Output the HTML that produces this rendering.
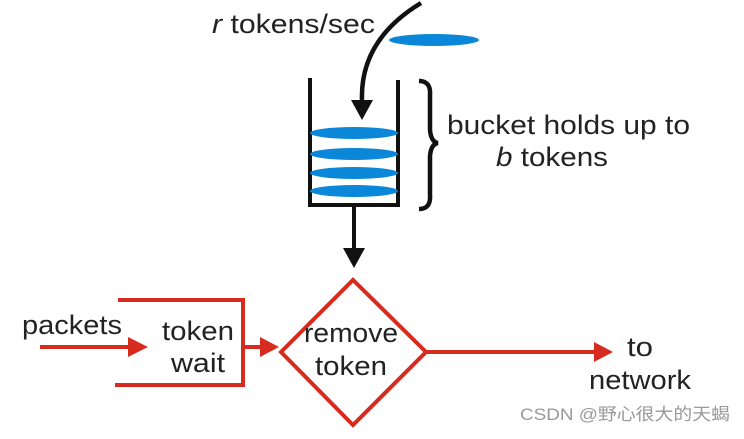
<!DOCTYPE html>
<html><head><style>
body{margin:0;background:#fff;}
svg text{font-family:"Liberation Sans",sans-serif;font-size:27px;fill:#222;}
</style></head><body>
<svg width="744" height="434" viewBox="0 0 744 434" xmlns="http://www.w3.org/2000/svg">
<text x="212" y="33" textLength="163" lengthAdjust="spacingAndGlyphs"><tspan font-style="italic">r</tspan> tokens/sec</text>
<ellipse cx="434" cy="40" rx="45" ry="6" fill="#0a87d8"/>
<path d="M421 3 Q360 40 362 100" fill="none" stroke="#111" stroke-width="4.5"/>
<polygon points="351,100 373,100 362,120" fill="#111"/>
<path d="M310 78 V205 H398 V80" fill="none" stroke="#111" stroke-width="4"/>
<ellipse cx="354" cy="133" rx="44" ry="6" fill="#0a87d8"/>
<ellipse cx="354" cy="154" rx="44" ry="6" fill="#0a87d8"/>
<ellipse cx="354" cy="173" rx="44" ry="6" fill="#0a87d8"/>
<ellipse cx="354" cy="191" rx="44" ry="6" fill="#0a87d8"/>
<path d="M419 81 Q431 81 430 95 V130 Q431 142 438 143 Q431 144 430 156 V195 Q431 209 419 209" fill="none" stroke="#111" stroke-width="4.5"/>
<text x="447" y="134" textLength="243" lengthAdjust="spacingAndGlyphs">bucket holds up to</text>
<text x="496" y="166" textLength="112" lengthAdjust="spacingAndGlyphs"><tspan font-style="italic">b</tspan> tokens</text>
<line x1="354" y1="205" x2="354" y2="250" stroke="#111" stroke-width="4"/>
<polygon points="343,248 365,248 354,268" fill="#111"/>
<text x="22" y="334" textLength="100" lengthAdjust="spacingAndGlyphs">packets</text>
<line x1="40" y1="347" x2="130" y2="347" stroke="#d62b1e" stroke-width="4"/>
<polygon points="128,337 148,347 128,357" fill="#d62b1e"/>
<path d="M118 300 H243 V385 H115" fill="none" stroke="#d62b1e" stroke-width="4"/>
<text x="162" y="340" textLength="72" lengthAdjust="spacingAndGlyphs">token</text>
<text x="171" y="372" textLength="54" lengthAdjust="spacingAndGlyphs">wait</text>
<line x1="243" y1="347" x2="262" y2="347" stroke="#d62b1e" stroke-width="4"/>
<polygon points="260,337 279,347 260,357" fill="#d62b1e"/>
<polygon points="281,352 353,280 426,352 353,425" fill="none" stroke="#d62b1e" stroke-width="4"/>
<text x="304" y="342" textLength="94" lengthAdjust="spacingAndGlyphs">remove</text>
<text x="315" y="375" textLength="72" lengthAdjust="spacingAndGlyphs">token</text>
<line x1="426" y1="352" x2="596" y2="352" stroke="#d62b1e" stroke-width="4"/>
<polygon points="594,342 613,352 594,362" fill="#d62b1e"/>
<text x="627" y="356" textLength="26" lengthAdjust="spacingAndGlyphs">to</text>
<text x="589" y="389" textLength="102" lengthAdjust="spacingAndGlyphs">network</text>
<text x="520" y="420" textLength="210" lengthAdjust="spacingAndGlyphs" style="font-family:'Liberation Sans','Noto Sans CJK SC',sans-serif;font-size:17px;fill:#999">CSDN @野心很大的天蝎</text>
</svg>
</body></html>
